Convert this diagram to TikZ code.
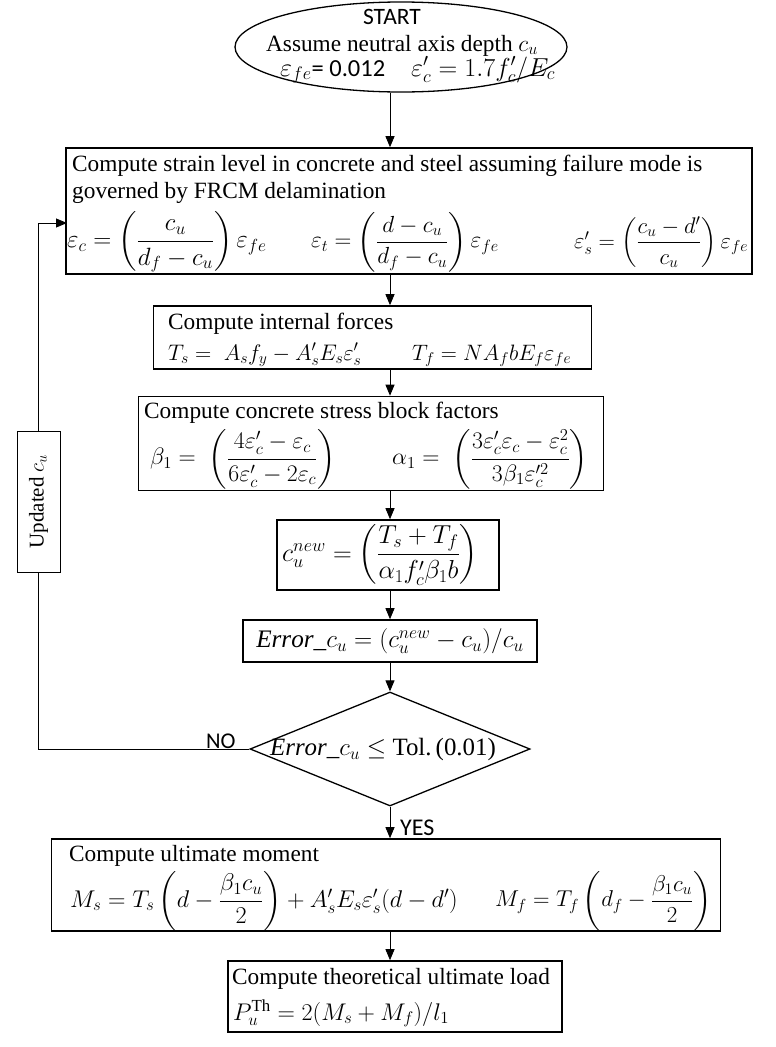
\RequirePackage{fix-cm}
\documentclass[tikz,border=0pt]{standalone}
\usepackage{amsmath}
\usepackage{fontspec}
\setmainfont{Liberation Serif}
\newfontfamily\calibri{Carlito}
\usetikzlibrary{shapes.geometric,arrows.meta}
\newcommand{\setfs}[1]{\fontsize{#1}{#1}\selectfont}
\begin{document}
\begin{tikzpicture}[x=1pt,y=-1pt,
  font=\fontsize{23.3}{28}\selectfont,
  box/.style={draw, line width=1.6pt, inner sep=0pt},
  arr/.style={line width=0.9pt, -{Triangle[length=11pt,width=9pt]}},
  lbl/.style={inner sep=0pt, anchor=base west},
  eq/.style={inner sep=0pt, anchor=west},
  thin line/.style={line width=0.9pt}
]
\fill[white] (0,0) rectangle (776,1047);
\useasboundingbox (0,0) rectangle (776,1047);
\coordinate (axis) at (390,0);

% start
\node[draw, ellipse, line width=1.3pt, minimum width=332pt, minimum height=90pt, inner sep=0pt] (start) at (401,47) {};
\node[lbl, anchor=base] (t0) at (392,24) {\setfs{23.5}\calibri START};
\node[lbl, anchor=base] (t1) at (402,51) {Assume neutral axis depth $c_u$};
\node[lbl] (t2) at (280,76) {\setfs{26}$\varepsilon_{fe}${\setfs{24.5}\calibri = 0.012}\quad $\varepsilon'_c = 1.7f'_c/E_c$};

% box 1
\node[box, minimum width=686pt, minimum height=126pt] (b1) at (409,211) {};
\node[lbl] (b1t1) at (72,171) {Compute strain level in concrete and steel assuming failure mode is};
\node[lbl] (b1t2) at (72,198) {governed by FRCM delamination};
\node[eq] (e1) at (67,242) {\setfs{25}$\varepsilon_c = \left(\dfrac{c_u}{d_f - c_u}\right)\varepsilon_{fe}$};
\node[eq] (e2) at (311,242) {\setfs{23.3}$\varepsilon_t = \left(\dfrac{d - c_u}{d_f - c_u}\right)\varepsilon_{fe}$};
\node[eq] (e3) at (574,242) {\setfs{22.6}$\varepsilon'_s = \left(\dfrac{c_u - d'}{c_u}\right)\varepsilon_{fe}$};

% box 2
\node[box, minimum width=438pt, minimum height=63pt] (b2) at (372.5,337.5) {};
\node[lbl] (b2t) at (168,329) {Compute internal forces};
\node[lbl] (e4) at (168,360) {\setfs{22.5}$T_s = \;A_s f_y - A'_s E_s \varepsilon'_s$};
\node[lbl] (e5) at (412,360) {\setfs{22.3}$T_f = N A_f b E_f \varepsilon_{fe}$};

% box 3
\node[box, minimum width=465pt, minimum height=94pt] (b3) at (371,443.5) {};
\node[lbl] (b3t) at (144,418) {Compute concrete stress block factors};
\node[eq] (e6) at (150,459) {\setfs{23.8}$\beta_1 = \;\left(\dfrac{4\varepsilon'_c - \varepsilon_c}{6\varepsilon'_c - 2\varepsilon_c}\right)$};
\node[eq] (e7) at (392,459) {\setfs{23.8}$\alpha_1 = \;\left(\dfrac{3\varepsilon'_c\varepsilon_c - \varepsilon_c^2}{3\beta_1\varepsilon_c'^2}\right)$};

% box 4
\node[box, minimum width=222pt, minimum height=70pt] (b4) at (388,555) {};
\node[eq] (e8) at (282,555) {\setfs{26}$c_u^{new} = \left(\dfrac{T_s + T_f}{\alpha_1 f'_c \beta_1 b}\right)$};

% box 5
\node[box, minimum width=294pt, minimum height=42pt] (b5) at (390,641) {};
\node[eq, anchor=center] (e9) at (b5) {\setfs{25.2}$\mathit{Error}\_c_u = (c_u^{new} - c_u)/c_u$};

% decision
\node[draw, diamond, line width=1.3pt, minimum width=280pt, minimum height=114pt, inner sep=0pt] (d) at (390,749) {};
\node[eq, anchor=center] (dt) at (383,750) {\setfs{24.9}$\mathit{Error}\_c_u \le$ Tol.\,(0.01)};
\node[lbl] (no) at (206,748) {\setfs{22.5}\calibri NO};
\node[lbl] (yes) at (400,835) {\setfs{24}\calibri YES};

% updated c_u
\node[draw, thin line, minimum width=43pt, minimum height=141pt, inner sep=0pt] (upd) at (38.5,501.5) {};
\node[rotate=90, inner sep=0pt] (updt) at (upd) {\setfs{21}Updated $c_u$};
\coordinate (in1) at (67,223);

% box 6
\node[box, minimum width=669pt, minimum height=92pt] (b6) at (386,885) {};
\node[lbl] (b6t) at (69,861) {Compute ultimate moment};
\node[eq] (e10) at (70,901) {\setfs{24.2}$M_s = T_s\left(d - \dfrac{\beta_1 c_u}{2}\right) + A'_s E_s \varepsilon'_s (d - d')$};
\node[eq] (e11) at (495,901) {\setfs{22.9}$M_f = T_f\left(d_f - \dfrac{\beta_1 c_u}{2}\right)$};

% box 7
\node[box, minimum width=334pt, minimum height=71pt] (b7) at (395,996.5) {};
\node[lbl] (b7t) at (232,984) {Compute theoretical ultimate load};
\node[lbl] (e12) at (233,1020) {\setfs{24.1}$P_u^{\mathrm{Th}} = 2(M_s + M_f)/l_1$};

% connectors
\draw[arr] (start.south -| axis) -- (b1.north -| axis);
\draw[arr] (b1.south -| axis) -- (b2.north -| axis);
\draw[arr] (b2.south -| axis) -- (b3.north -| axis);
\draw[arr] (b3.south -| axis) -- (b4.north -| axis);
\draw[arr] (b4.south -| axis) -- (b5.north -| axis);
\draw[arr] (b5.south -| axis) -- (d.north);
\draw[arr] (d.south) -- (b6.north -| d.south);
\draw[arr] (b6.south -| axis) -- (b7.north -| axis);
\draw[thin line] (d.west) -- (d.west -| upd.south) -- (upd.south);
\draw[arr] (upd.north) -- (upd.north |- in1) -- (in1);
\end{tikzpicture}
\end{document}
